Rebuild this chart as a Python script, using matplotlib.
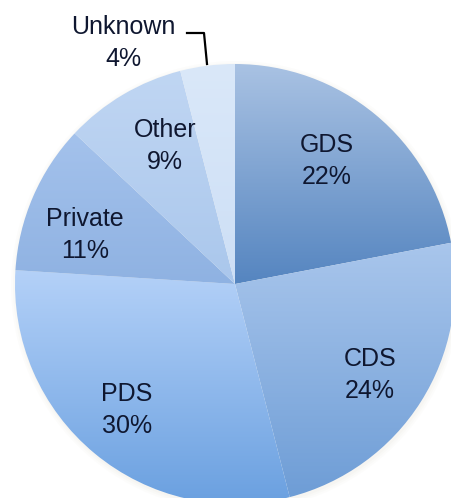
import numpy as np
import matplotlib.pyplot as plt
from matplotlib.colors import LinearSegmentedColormap

labels = ['GDS', 'CDS', 'PDS', 'Private', 'Other', 'Unknown']
shares = [22, 24, 30, 11, 9, 4]
# top / bottom colour of each slice's gradient
top_colors = ['#a9c2e3', '#a9c6ec', '#b4d1f8', '#a4c2ec', '#c0d6f3', '#dae8f9']
bottom_colors = ['#5585c0', '#6e9dd6', '#6aa0e0', '#8fb2e2', '#aac7ec', '#cddff6']
label_pos = [(327, 161), (370, 375), (127, 410), (85, 235), (165, 146), (123, 43)]

fig = plt.figure(figsize=(4.51, 4.98), dpi=100)
ax = fig.add_axes([0, 0, 1, 1])

cx, cy, r = 235, 284, 220

# soft shadow behind the pie
for i, a in enumerate([0.04, 0.04, 0.05]):
    ax.add_patch(plt.Circle((cx + 1, cy + 2), r + 5 - 2 * i, color='#c8b8a0', alpha=a, lw=0))

# y axis is inverted (pixel coords), so start at -90 and go "counterclockwise"
wedges, _ = ax.pie(shares, center=(cx, cy), radius=r, startangle=-90,
                   counterclock=True, wedgeprops=dict(lw=0))
ax.set_xlim(0, 451)
ax.set_ylim(498, 0)
ax.set_aspect('equal')
ax.axis('off')

for w, c0, c1 in zip(wedges, top_colors, bottom_colors):
    w.set_facecolor('none')
    bb = w.get_path().get_extents(w.get_transform() - ax.transData)
    cmap = LinearSegmentedColormap.from_list('g', [c0, c1])
    grad = np.linspace(0, 1, 256).reshape(-1, 1)
    im = ax.imshow(grad, cmap=cmap, extent=(bb.x0, bb.x1, bb.y1, bb.y0),
                   aspect='auto', interpolation='bilinear', zorder=1)
    im.set_clip_path(w)

for lab, s, (x, y) in zip(labels, shares, label_pos):
    ax.text(x, y, f'{lab}\n{s}%', ha='center', va='center', fontsize=18,
            family='Liberation Sans', color='#0f1730', linespacing=1.4, zorder=5)

ax.plot([187, 204, 207], [33, 33, 64], color='black', lw=1.6, zorder=5)

ax.set_xlim(0, 451)
ax.set_ylim(498, 0)
fig.savefig('out.png', dpi=100)
